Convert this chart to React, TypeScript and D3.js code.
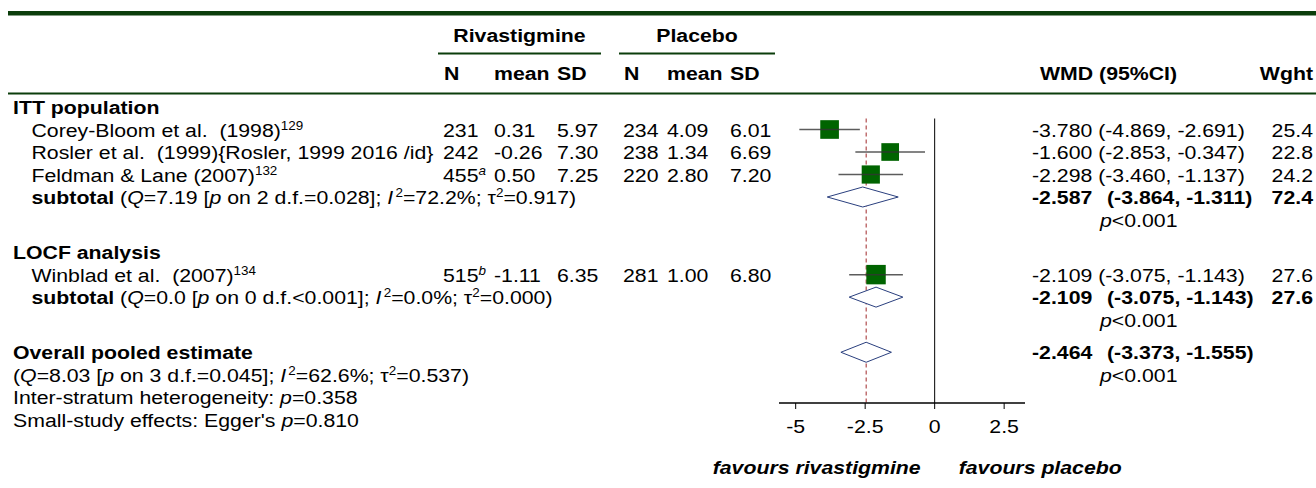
import * as d3 from "d3";

const W = 1316,
	H = 488;
const FONT = '"Liberation Sans", Arial, Helvetica, sans-serif';
const FS = 19; // font size
const SX = 1.12; // the original output is a little wider than tall

// studies
const studyNames = ["Corey-Bloom et al.  (1998)", "Rosler et al.  (1999){Rosler, 1999 2016 /id}", "Feldman & Lane (2007)", "Winblad et al.  (2007)"];
const studyRefs = ["129", "", "132", "134"];
const studyGroup = [0, 0, 0, 1];
const rivN = [231, 242, 455, 515];
const rivNote = ["", "", "a", "b"];
const rivMean = [0.31, -0.26, 0.5, -1.11];
const rivSD = [5.97, 7.3, 7.25, 6.35];
const plaN = [234, 238, 220, 281];
const plaMean = [4.09, 1.34, 2.8, 1.0];
const plaSD = [6.01, 6.69, 7.2, 6.8];
const wmd = [-3.78, -1.6, -2.298, -2.109];
const wmdLo = [-4.869, -2.853, -3.46, -3.075];
const wmdHi = [-2.691, -0.347, -1.137, -1.143];
const weight = [25.4, 22.8, 24.2, 27.6];

// subgroups
const groups = ["ITT population", "LOCF analysis"];
const subEst = [-2.587, -2.109];
const subLo = [-3.864, -3.075];
const subHi = [-1.311, -1.143];
const subWeight = [72.4, 27.6];
const subQ = ["7.19", "0.0"];
const subDf = [2, 0];
const subQp = ["=0.028", "<0.001"];
const subI2 = ["72.2", "0.0"];
const subTau2 = ["0.917", "0.000"];
const subP = ["<0.001", "<0.001"];

// overall
const overallEst = [-2.464];
const overallLo = [-3.373];
const overallHi = [-1.555];
const overallStats = ["8.03", "3", "=0.045", "62.6", "0.537"];
const overallP = ["<0.001"];
const interP = "0.358";
const eggerP = "0.810";

const xTicks = [-5, -2.5, 0, 2.5];

const T = ({ x, y, anchor = "start", bold = false, italic = false, size = FS, children }: any) => (
	<text
		transform={`translate(${x},${y}) scale(${SX},1)`}
		textAnchor={anchor}
		fontWeight={bold ? "bold" : "normal"}
		fontStyle={italic ? "italic" : "normal"}
		fontSize={size}
		fill="#000"
		style={{ whiteSpace: "pre" }}
	>
		{children}
	</text>
);

// superscript at the end of a text
const Sup = ({ children, italic = false }: any) => (
	<tspan dy={-7} fontSize={12} fontStyle={italic ? "italic" : "normal"}>
		{children}
	</tspan>
);

// heterogeneity text: (Q=.. [p on .. d.f...]; I²=..%; τ²=..)
const Het = ({ q, df, qp, i2, tau2 }: any) => (
	<>
		<tspan>(</tspan>
		<tspan fontStyle="italic">Q</tspan>
		<tspan>={q} [</tspan>
		<tspan fontStyle="italic">p</tspan>
		<tspan>{` on ${df} d.f.${qp}]; `}</tspan>
		<tspan fontStyle="italic">I</tspan>
		<tspan dx={2} dy={-7} fontSize={12}>
			2
		</tspan>
		<tspan dy={7} fontSize={FS}>
			={i2}%; τ
		</tspan>
		<tspan dy={-7} fontSize={12}>
			2
		</tspan>
		<tspan dy={7} fontSize={FS}>
			={tau2})
		</tspan>
	</>
);

export default function App() {
	const x = d3.scaleLinear().domain([-5.6, 3.25]).range([779, 1025]);
	const row = d3.scaleLinear().domain([0, 1]).range([107, 129.5]);
	const base = (r: number) => row(r) + 7;

	// row layout
	const groupRow: number[] = [];
	const studyRow: number[] = [];
	const subRow: number[] = [];
	let r = 0;
	groups.forEach((g, gi) => {
		groupRow[gi] = r++;
		studyGroup.forEach((sg, i) => {
			if (sg === gi) studyRow[i] = r++;
		});
		subRow[gi] = r;
		r += 2.45;
	});
	const overallRow = r;

	const fmt2 = (v: number) => v.toFixed(2);
	const fmt3 = (v: number) => v.toFixed(3);
	const side = (w: number) => 3.7 * Math.sqrt(w);

	const axisY = 403;
	const plotTop = row(1) - 11;
	const green = "#0b3d0b";

	const colN1 = 443,
		colM1 = 494,
		colS1 = 557,
		colN2 = 623,
		colM2 = 667,
		colS2 = 730;
	const colWmd = 1032,
		colCi = 1107,
		colW = 1313,
		colP = 1100;

	const diamond = (est: number, lo: number, hi: number, yy: number) =>
		`M${x(lo)},${yy}L${x(est)},${yy - 10}L${x(hi)},${yy}L${x(est)},${yy + 10}Z`;

	return (
		<svg width={W} height={H} style={{ position: "absolute", left: 0, top: 0, background: "#fff" }} fontFamily={FONT}>
			<rect x={0} y={0} width={W} height={H} fill="#fff" />
			{/* rules */}
			<rect x={8} y={11} width={W - 8} height={4.5} fill={green} />
			<line x1={438} x2={601} y1={53.5} y2={53.5} stroke={green} strokeWidth={2} />
			<line x1={619} x2={775} y1={53.5} y2={53.5} stroke={green} strokeWidth={2} />
			<line x1={8} x2={W} y1={93.5} y2={93.5} stroke={green} strokeWidth={2} />

			{/* headers */}
			<T x={519.5} y={42} anchor="middle" bold>
				Rivastigmine
			</T>
			<T x={697} y={42} anchor="middle" bold>
				Placebo
			</T>
			{[
				["N", colN1 + 1],
				["mean", colM1],
				["SD", colS1],
				["N", colN2 + 1],
				["mean", colM2],
				["SD", colS2],
			].map(([t, cx], i) => (
				<T key={i} x={cx} y={80} bold>
					{t}
				</T>
			))}
			<T x={1040} y={80} bold>
				WMD (95%CI)
			</T>
			<T x={colW} y={80} anchor="end" bold>
				Wght
			</T>

			{/* forest plot frame */}
			<line x1={x(0)} x2={x(0)} y1={plotTop} y2={axisY} stroke="#000" strokeWidth={1} />
			<line x1={x(overallEst[0])} x2={x(overallEst[0])} y1={plotTop} y2={axisY} stroke="#a0282a" strokeWidth={1} strokeDasharray="4,3" />
			<line x1={x.range()[0]} x2={x.range()[1]} y1={axisY} y2={axisY} stroke="#000" strokeWidth={1.5} />
			{xTicks.map((t) => (
				<g key={t}>
					<line x1={x(t)} x2={x(t)} y1={axisY} y2={axisY + 6} stroke="#000" strokeWidth={1} />
					<T x={x(t)} y={axisY + 30} anchor="middle">
						{String(t)}
					</T>
				</g>
			))}
			<T x={x(0) - 14} y={474} anchor="end" bold italic>
				favours rivastigmine
			</T>
			<T x={x(0) + 24} y={474} bold italic>
				favours placebo
			</T>

			{/* groups */}
			{groups.map((g, gi) => (
				<g key={g}>
					<T x={13} y={base(groupRow[gi])} bold>
						{g}
					</T>
					<T x={31.5} y={base(subRow[gi])}>
						<tspan fontWeight="bold">subtotal</tspan> <Het q={subQ[gi]} df={subDf[gi]} qp={subQp[gi]} i2={subI2[gi]} tau2={subTau2[gi]} />
					</T>
					<path d={diamond(subEst[gi], subLo[gi], subHi[gi], row(subRow[gi]))} fill="#fff" stroke="#2a3f7e" strokeWidth={1} />
					<T x={colWmd} y={base(subRow[gi])} bold>
						{fmt3(subEst[gi])}
					</T>
					<T x={colCi} y={base(subRow[gi])} bold>
						({fmt3(subLo[gi])}, {fmt3(subHi[gi])})
					</T>
					<T x={colW} y={base(subRow[gi])} anchor="end" bold>
						{subWeight[gi].toFixed(1)}
					</T>
					<T x={colP} y={base(subRow[gi] + 1)}>
						<tspan fontStyle="italic">p</tspan>
						{subP[gi]}
					</T>
				</g>
			))}

			{/* studies */}
			{studyNames.map((s, i) => {
				const yy = row(studyRow[i]);
				const b = base(studyRow[i]);
				const sz = side(weight[i]);
				return (
					<g key={s}>
						<T x={31.5} y={b}>
							{s}
							{studyRefs[i] && <Sup>{studyRefs[i]}</Sup>}
						</T>
						<T x={colN1} y={b}>
							{rivN[i]}
							{rivNote[i] && <Sup italic>{rivNote[i]}</Sup>}
						</T>
						<T x={colM1} y={b}>
							{fmt2(rivMean[i])}
						</T>
						<T x={colS1} y={b}>
							{fmt2(rivSD[i])}
						</T>
						<T x={colN2} y={b}>
							{plaN[i]}
						</T>
						<T x={colM2} y={b}>
							{fmt2(plaMean[i])}
						</T>
						<T x={colS2} y={b}>
							{fmt2(plaSD[i])}
						</T>
						<rect x={x(wmd[i]) - sz / 2} y={yy - sz / 2} width={sz} height={sz} fill="#006400" />
						<line x1={x(wmdLo[i])} x2={x(wmdHi[i])} y1={yy} y2={yy} stroke="#333" strokeOpacity={0.8} strokeWidth={1.5} />
						<T x={colWmd} y={b}>
							{fmt3(wmd[i])} ({fmt3(wmdLo[i])}, {fmt3(wmdHi[i])})
						</T>
						<T x={colW} y={b} anchor="end">
							{weight[i].toFixed(1)}
						</T>
					</g>
				);
			})}

			{/* overall */}
			<T x={13} y={base(overallRow)} bold>
				Overall pooled estimate
			</T>
			<T x={13} y={base(overallRow + 1)}>
				<Het q={overallStats[0]} df={overallStats[1]} qp={overallStats[2]} i2={overallStats[3]} tau2={overallStats[4]} />
			</T>
			<T x={13} y={base(overallRow + 2)}>
				Inter-stratum heterogeneity: <tspan fontStyle="italic">p</tspan>={interP}
			</T>
			<T x={13} y={base(overallRow + 3)}>
				Small-study effects: Egger's <tspan fontStyle="italic">p</tspan>={eggerP}
			</T>
			<path d={diamond(overallEst[0], overallLo[0], overallHi[0], row(overallRow))} fill="#fff" stroke="#2a3f7e" strokeWidth={1} />
			<T x={colWmd} y={base(overallRow)} bold>
				{fmt3(overallEst[0])}
			</T>
			<T x={colCi} y={base(overallRow)} bold>
				({fmt3(overallLo[0])}, {fmt3(overallHi[0])})
			</T>
			<T x={colP} y={base(overallRow + 1)}>
				<tspan fontStyle="italic">p</tspan>
				{overallP[0]}
			</T>
		</svg>
	);
}
